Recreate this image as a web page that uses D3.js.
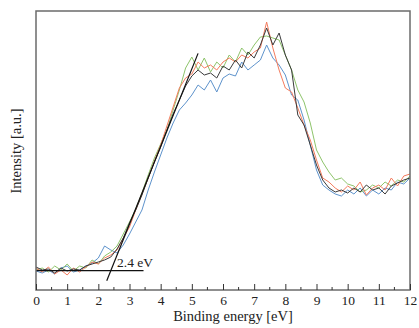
<!DOCTYPE html>
<html>
<head>
<meta charset="utf-8">
<script src="https://cdn.jsdelivr.net/npm/d3@7"></script>
<style>
  html, body { margin: 0; padding: 0; background: #fff; }
  svg { display: block; }
  svg text { font-family: "Liberation Serif", "Times New Roman", "DejaVu Serif", serif; fill: #222; }
</style>
</head>
<body>
<div id="chart"></div>
<script>
// Binding energy grid (eV), 0.2 eV step
const energies = d3.range(61).map(i => +(i * 0.2).toFixed(1));

// Intensity (a.u.) for the four spectra
const blackSeries = [23,20,21,17,22,19,21,20,24,26,28,30,33,41,52,67,80,95,112,128,143,160,176,190,204,214,220,215,217,212,224,220,230,222,238,232,245,262,245,257,235,220,175,165,145,125,110,102,98,100,97,102,98,105,100,102,96,104,107,110,112];
const redSeries   = [22,18,23,16,20,15,22,18,23,28,26,32,35,40,52,63,80,96,112,129,145,164,183,202,212,216,228,222,225,220,228,232,228,235,232,238,242,268,242,220,202,198,182,165,150,130,112,108,102,98,104,100,108,95,102,105,100,112,104,114,116];
const greenSeries = [20,22,18,24,20,26,19,24,22,30,26,34,38,44,56,68,81,97,115,132,146,160,180,200,222,233,220,232,218,228,222,235,228,242,235,245,253,254,252,250,235,220,200,188,167,140,128,118,110,112,106,104,98,100,105,102,108,104,110,108,114];
const blueSeries  = [19,17,20,16,22,24,18,20,24,27,32,44,40,37,45,56,68,80,100,118,135,152,167,180,187,195,205,200,210,198,212,216,214,228,220,225,230,245,232,225,215,195,190,170,145,120,105,100,96,94,100,96,102,94,100,96,102,100,108,106,112];

// Onset construction: baseline and leading-edge fit
const baselineLine = [[0, 19.3], [3.45, 19.3]];
const edgeLine     = [[2.27, 9.2], [5.2, 236.6]];
const onsetLabel   = '2.4 eV';
const onsetLabelPos = [2.6, 23];

const xTicks = d3.range(0, 13);
const xMinorTicks = d3.range(0.5, 12, 1);

const SERIES = [
  { name: 'blue',  values: blueSeries,  color: '#5e93cc' },
  { name: 'green', values: greenSeries, color: '#8ec46b' },
  { name: 'red',   values: redSeries,   color: '#f47c5e' },
  { name: 'black', values: blackSeries, color: '#3a3a3a' },
];

const FONT = '"Liberation Serif", "Times New Roman", "DejaVu Serif", serif';

const W = 419, H = 328;
const margin = { top: 11, right: 9, bottom: 38, left: 36 };
const width = W - margin.left - margin.right;
const height = H - margin.top - margin.bottom;

const svg = d3.select('#chart').append('svg')
  .attr('width', W).attr('height', H)
  .attr('font-family', FONT);
const g = svg.append('g').attr('transform', `translate(${margin.left},${margin.top})`);

const x = d3.scaleLinear().domain([0, 12]).range([0, width]);
const y = d3.scaleLinear().domain([0, 279]).range([height, 0]);

const line = d3.line()
  .x(d => x(d[0]))
  .y(d => y(d[1]));

// spectra
SERIES.forEach(s => {
  g.append('path')
    .datum(energies.map((e, i) => [e, s.values[i]]))
    .attr('d', line)
    .attr('fill', 'none')
    .attr('stroke', s.color)
    .attr('stroke-width', 1)
    .attr('stroke-linejoin', 'round');
});

// onset fit lines
[baselineLine, edgeLine].forEach(seg => {
  g.append('path')
    .datum(seg)
    .attr('d', line)
    .attr('fill', 'none')
    .attr('stroke', '#111')
    .attr('stroke-width', 1.2);
});

g.append('text')
  .attr('x', x(onsetLabelPos[0])).attr('y', y(onsetLabelPos[1]))
  .attr('font-size', 13.5)
  .attr('font-family', FONT)
  .text(onsetLabel);

// frame
g.append('rect')
  .attr('x', 0).attr('y', 0)
  .attr('width', width).attr('height', height)
  .attr('fill', 'none')
  .attr('stroke', '#6b6b6b')
  .attr('stroke-width', 1.5);

// x ticks (inside, pointing up)
const xAxis = d3.axisBottom(x).tickValues(xTicks).tickSize(-6).tickPadding(5).tickFormat(d3.format('d'));
const ax = g.append('g').attr('transform', `translate(0,${height})`).call(xAxis);
ax.attr('font-family', FONT);
ax.select('.domain').remove();
ax.selectAll('.tick line').attr('stroke', '#333');
ax.selectAll('.tick text')
  .attr('font-size', 13.5)
  .attr('font-family', FONT)
  .attr('fill', '#222');

g.append('g').selectAll('line')
  .data(xMinorTicks)
  .join('line')
  .attr('x1', d => x(d)).attr('x2', d => x(d))
  .attr('y1', height).attr('y2', height - 3)
  .attr('stroke', '#333');

// axis titles
svg.append('text')
  .attr('x', 233).attr('y', 321)
  .attr('text-anchor', 'middle')
  .attr('font-size', 14.5)
  .attr('font-family', FONT)
  .text('Binding energy [eV]');

svg.append('text')
  .attr('transform', 'translate(21,151) rotate(-90)')
  .attr('text-anchor', 'middle')
  .attr('font-size', 14.5)
  .attr('font-family', FONT)
  .text('Intensity [a.u.]');
</script>
</body>
</html>
